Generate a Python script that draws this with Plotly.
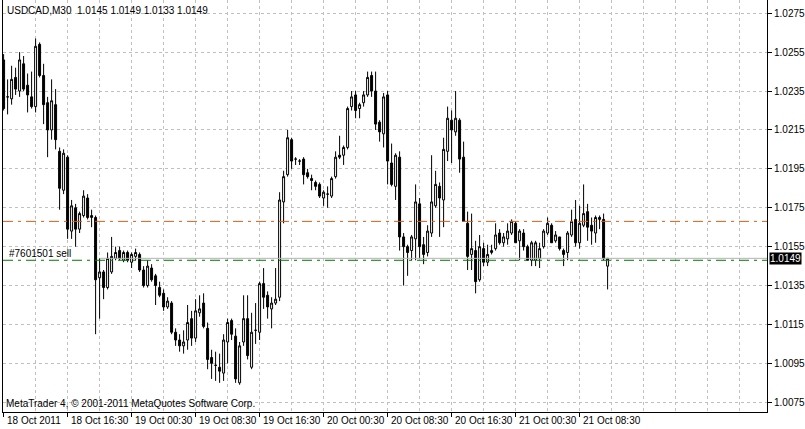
import plotly.graph_objects as go

# USDCAD M30, 18-21 Oct 2011
open_ = [
    1.0251, 1.0232, 1.0231, 1.0242, 1.0235, 1.0249, 1.0238, 1.0232, 1.0227, 1.0259,
    1.0243, 1.0229, 1.0215, 1.0228, 1.0204, 1.0184, 1.0201, 1.0163, 1.0175, 1.0164,
    1.0171, 1.0180, 1.0170, 1.0170, 1.0139, 1.0142, 1.0134, 1.0142, 1.0149, 1.0153,
    1.0148, 1.0152, 1.0147, 1.0150, 1.0151, 1.0143, 1.0135, 1.0144, 1.0140, 1.0134,
    1.0131, 1.0124, 1.0126, 1.0111, 1.0107, 1.0104, 1.0107, 1.0118, 1.0108, 1.0121,
    1.0126, 1.0113, 1.0098, 1.0094, 1.0093, 1.0090, 1.0106, 1.0117, 1.0109, 1.0085,
    1.0106, 1.0118, 1.0093, 1.0112, 1.0111, 1.0136, 1.0130, 1.0123, 1.0126, 1.0129,
    1.0178, 1.0192, 1.0210, 1.0200, 1.0199, 1.0200, 1.0193, 1.0190, 1.0188, 1.0187,
    1.0180, 1.0182, 1.0181, 1.0191, 1.0202, 1.0202, 1.0206, 1.0227, 1.0233, 1.0226,
    1.0229, 1.0233, 1.0243, 1.0235, 1.0219, 1.0213, 1.0233, 1.0198, 1.0186, 1.0201,
    1.0160, 1.0155, 1.0153, 1.0159, 1.0177, 1.0156, 1.0152, 1.0162, 1.0176, 1.0186,
    1.0179, 1.0204, 1.0220, 1.0214, 1.0220, 1.0201, 1.0167, 1.0151, 1.0153, 1.0138,
    1.0154, 1.0147, 1.0152, 1.0154, 1.0162, 1.0157, 1.0159, 1.0162, 1.0167, 1.0158,
    1.0162, 1.0155, 1.0148, 1.0148, 1.0149, 1.0155, 1.0162, 1.0166, 1.0158, 1.0160,
    1.0153, 1.0152, 1.0161, 1.0169, 1.0157, 1.0166, 1.0173, 1.0166, 1.0162, 1.0169,
    1.0169, 1.0145,
]
high = [
    1.0254, 1.0241, 1.0248, 1.0247, 1.0255, 1.0253, 1.0244, 1.0245, 1.0262, 1.0260,
    1.0249, 1.0232, 1.0241, 1.0236, 1.0206, 1.0205, 1.0202, 1.0179, 1.0177, 1.0173,
    1.0184, 1.0182, 1.0174, 1.0171, 1.0149, 1.0143, 1.0152, 1.0160, 1.0155, 1.0155,
    1.0153, 1.0153, 1.0152, 1.0154, 1.0152, 1.0145, 1.0148, 1.0146, 1.0141, 1.0137,
    1.0133, 1.0129, 1.0127, 1.0113, 1.0110, 1.0112, 1.0125, 1.0122, 1.0128, 1.0130,
    1.0131, 1.0116, 1.0102, 1.0101, 1.0100, 1.0110, 1.0118, 1.0118, 1.0113, 1.0106,
    1.0130, 1.0130, 1.0121, 1.0126, 1.0137, 1.0144, 1.0132, 1.0129, 1.0144, 1.0183,
    1.0194, 1.0215, 1.0211, 1.0201, 1.0200, 1.0201, 1.0195, 1.0192, 1.0189, 1.0188,
    1.0184, 1.0186, 1.0191, 1.0204, 1.0212, 1.0207, 1.0227, 1.0235, 1.0235, 1.0229,
    1.0235, 1.0245, 1.0245, 1.0245, 1.0220, 1.0234, 1.0235, 1.0208, 1.0203, 1.0204,
    1.0162, 1.0156, 1.0161, 1.0187, 1.0180, 1.0160, 1.0166, 1.0202, 1.0194, 1.0188,
    1.0211, 1.0227, 1.0225, 1.0235, 1.0221, 1.0209, 1.0173, 1.0172, 1.0158, 1.0161,
    1.0157, 1.0156, 1.0156, 1.0167, 1.0164, 1.0162, 1.0167, 1.0169, 1.0168, 1.0164,
    1.0164, 1.0156, 1.0158, 1.0158, 1.0157, 1.0164, 1.0170, 1.0167, 1.0163, 1.0160,
    1.0154, 1.0163, 1.0174, 1.0179, 1.0176, 1.0187, 1.0177, 1.0170, 1.0171, 1.0171,
    1.0172, 1.0149,
]
low = [
    1.0225, 1.0223, 1.0228, 1.0233, 1.0232, 1.0235, 1.0224, 1.0226, 1.0224, 1.0242,
    1.0218, 1.0201, 1.0210, 1.0205, 1.0174, 1.0182, 1.0159, 1.0159, 1.0155, 1.0162,
    1.0170, 1.0169, 1.0165, 1.0110, 1.0118, 1.0128, 1.0133, 1.0141, 1.0148, 1.0148,
    1.0147, 1.0147, 1.0144, 1.0148, 1.0142, 1.0134, 1.0134, 1.0137, 1.0125, 1.0129,
    1.0122, 1.0123, 1.0110, 1.0104, 1.0101, 1.0100, 1.0102, 1.0104, 1.0106, 1.0119,
    1.0113, 1.0092, 1.0087, 1.0086, 1.0085, 1.0086, 1.0095, 1.0107, 1.0085, 1.0084,
    1.0104, 1.0097, 1.0092, 1.0105, 1.0107, 1.0123, 1.0118, 1.0113, 1.0125, 1.0127,
    1.0167, 1.0191, 1.0195, 1.0197, 1.0197, 1.0187, 1.0190, 1.0184, 1.0184, 1.0180,
    1.0176, 1.0175, 1.0180, 1.0190, 1.0200, 1.0197, 1.0205, 1.0225, 1.0221, 1.0221,
    1.0227, 1.0232, 1.0232, 1.0215, 1.0209, 1.0206, 1.0187, 1.0186, 1.0179, 1.0153,
    1.0135, 1.0140, 1.0148, 1.0148, 1.0149, 1.0146, 1.0150, 1.0160, 1.0175, 1.0160,
    1.0165, 1.0199, 1.0198, 1.0212, 1.0193, 1.0168, 1.0143, 1.0143, 1.0131, 1.0137,
    1.0145, 1.0145, 1.0151, 1.0153, 1.0156, 1.0155, 1.0156, 1.0161, 1.0157, 1.0148,
    1.0153, 1.0148, 1.0145, 1.0145, 1.0144, 1.0154, 1.0161, 1.0157, 1.0157, 1.0153,
    1.0145, 1.0148, 1.0160, 1.0155, 1.0154, 1.0165, 1.0158, 1.0156, 1.0157, 1.0164,
    1.0148, 1.0133,
]
close = [
    1.0226, 1.0232, 1.0241, 1.0236, 1.0251, 1.0236, 1.0233, 1.0227, 1.0258, 1.0243,
    1.0228, 1.0215, 1.0230, 1.0210, 1.0185, 1.0203, 1.0164, 1.0176, 1.0164, 1.0172,
    1.0181, 1.0170, 1.0171, 1.0138, 1.0142, 1.0134, 1.0149, 1.0150, 1.0152, 1.0149,
    1.0152, 1.0148, 1.0151, 1.0152, 1.0143, 1.0135, 1.0145, 1.0138, 1.0135, 1.0130,
    1.0124, 1.0127, 1.0111, 1.0107, 1.0104, 1.0106, 1.0116, 1.0108, 1.0122, 1.0123,
    1.0114, 1.0097, 1.0095, 1.0094, 1.0091, 1.0107, 1.0116, 1.0110, 1.0087, 1.0104,
    1.0118, 1.0099, 1.0111, 1.0112, 1.0136, 1.0129, 1.0124, 1.0126, 1.0128, 1.0179,
    1.0191, 1.0211, 1.0199, 1.0200, 1.0199, 1.0192, 1.0191, 1.0189, 1.0186, 1.0181,
    1.0183, 1.0182, 1.0190, 1.0201, 1.0201, 1.0206, 1.0226, 1.0232, 1.0225, 1.0228,
    1.0233, 1.0242, 1.0235, 1.0218, 1.0214, 1.0232, 1.0199, 1.0187, 1.0202, 1.0160,
    1.0155, 1.0152, 1.0160, 1.0178, 1.0155, 1.0151, 1.0163, 1.0178, 1.0187, 1.0180,
    1.0205, 1.0221, 1.0215, 1.0221, 1.0200, 1.0168, 1.0150, 1.0154, 1.0137, 1.0155,
    1.0147, 1.0151, 1.0153, 1.0161, 1.0157, 1.0160, 1.0163, 1.0168, 1.0157, 1.0163,
    1.0155, 1.0148, 1.0157, 1.0157, 1.0154, 1.0163, 1.0167, 1.0157, 1.0161, 1.0154,
    1.0151, 1.0162, 1.0168, 1.0157, 1.0167, 1.0172, 1.0165, 1.0163, 1.0170, 1.0170,
    1.0149, 1.0149,
]
bars = list(range(len(open_)))

time_ticks = [0, 16, 32, 48, 64, 80, 96, 112, 128, 144]
time_labels = ["18 Oct 2011", "18 Oct 16:30", "19 Oct 00:30", "19 Oct 08:30", "19 Oct 16:30",
               "20 Oct 00:30", "20 Oct 08:30", "20 Oct 16:30", "21 Oct 00:30", "21 Oct 08:30"]
price_ticks = [1.0075, 1.0095, 1.0115, 1.0135, 1.0155, 1.0175,
               1.0195, 1.0215, 1.0235, 1.0255, 1.0275]

header = "USDCAD,M30  1.0145 1.0149 1.0133 1.0149"
copyright_txt = "MetaTrader 4, \u00a9 2001-2011 MetaQuotes Software Corp."
bid = 1.0149
order_price = 1.0148
stop_price = 1.0168
order_label = "#7601501 sell"
line_from_bar = 24

X_RANGE = [-0.15, 190.85]
Y_RANGE = [1.00700, 1.02818]
GRID = "#c0c0c0"
FONT = "Liberation Sans"

fig = go.Figure()
fig.add_trace(go.Candlestick(
    x=bars, open=open_, high=high, low=low, close=close,
    increasing=dict(line=dict(color="black", width=1), fillcolor="white"),
    decreasing=dict(line=dict(color="black", width=1), fillcolor="black"),
    whiskerwidth=0, showlegend=False, hoverinfo="skip",
))

# order / stop / bid lines
fig.add_shape(type="line", xref="x", yref="y", x0=line_from_bar, x1=X_RANGE[1],
              y0=bid, y1=bid, line=dict(color="#b4b4b4", width=1))
fig.add_shape(type="line", xref="paper", yref="y", x0=0, x1=1, y0=order_price, y1=order_price,
              line=dict(color="#007a00", width=1, dash="10px,5px,3px,5px"))
fig.add_shape(type="line", xref="paper", yref="y", x0=0, x1=1, y0=stop_price, y1=stop_price,
              line=dict(color="#d0601a", width=1, dash="10px,5px,3px,5px"))

small = dict(family=FONT, size=10, color="black")
fig.add_annotation(text=header, xref="paper", yref="paper", x=0, y=1, xanchor="left",
                   yanchor="top", xshift=2, yshift=-3, showarrow=False, font=small)
fig.add_annotation(text=order_label, xref="paper", yref="y", x=0, y=order_price,
                   xanchor="left", yanchor="bottom", xshift=4, yshift=-1, showarrow=False,
                   font=small)
fig.add_annotation(text=copyright_txt, xref="paper", yref="paper", x=0, y=0,
                   xanchor="left", yanchor="bottom", xshift=1, yshift=1, showarrow=False,
                   font=small)
fig.add_annotation(text=f"{bid:.4f}", xref="paper", yref="y", x=1, y=bid, xanchor="left",
                   yanchor="middle", xshift=2, showarrow=False, bgcolor="black",
                   borderpad=0, font=dict(family=FONT, size=10, color="white"))
for t, lab in zip(time_ticks, time_labels):
    fig.add_annotation(text=lab, xref="x", yref="paper", x=t, y=0, xanchor="left",
                       yanchor="top", xshift=1, yshift=-1, showarrow=False, font=small)

fig.update_layout(
    width=805, height=429,
    margin=dict(l=3, r=38, t=0, b=17),
    paper_bgcolor="white", plot_bgcolor="white",
    font=small,
    xaxis=dict(
        range=X_RANGE, rangeslider=dict(visible=False), zeroline=False,
        showline=True, linecolor="black", linewidth=1, mirror=False,
        tickvals=time_ticks, showticklabels=False, ticks="outside", ticklen=4,
        tickcolor="black", showgrid=True, gridcolor=GRID, griddash="3px,3px",
        minor=dict(dtick=8, tick0=0, showgrid=True, gridcolor=GRID, griddash="3px,3px"),
    ),
    yaxis=dict(
        range=Y_RANGE, side="right", zeroline=False,
        showline=True, linecolor="black", linewidth=1, mirror=True,
        tickvals=price_ticks, tickformat=".4f", ticks="outside", ticklen=4,
        tickcolor="black", tickfont=small, showgrid=True, gridcolor=GRID,
        griddash="3px,3px",
    ),
    boxgap=0.3,
)

# page margin would push the 805px figure off the window
fig.write_html("out.html", config={"displayModeBar": False},
               post_script="document.body.style.margin='0';")
